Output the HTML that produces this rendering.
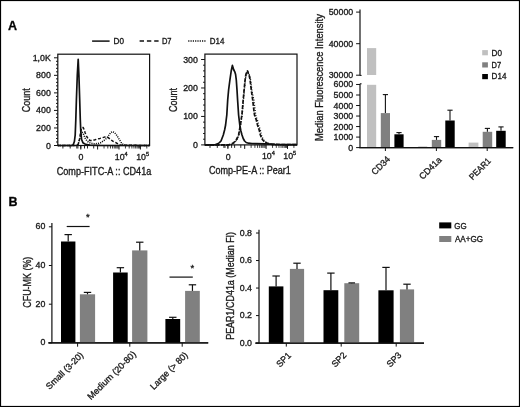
<!DOCTYPE html>
<html><head><meta charset="utf-8"><style>
html,body{margin:0;padding:0;background:#fff;width:520px;height:407px;overflow:hidden;}
svg{display:block;will-change:transform;}
text{font-family:"Liberation Sans", sans-serif;stroke:#1a1a1a;stroke-width:0.33px;}
</style></head><body>
<svg width="520" height="407" viewBox="0 0 520 407">
<rect x="0" y="0" width="520" height="407" fill="#fff"/>
<rect x="0.5" y="0.5" width="519" height="406" fill="none" stroke="#000" stroke-width="1.2"/>
<text x="8" y="30.2" font-size="12.5" font-weight="bold" fill="#000">A</text>
<text x="8.4" y="206" font-size="12.5" font-weight="bold" fill="#000">B</text>
<line x1="92.1" y1="41.1" x2="109.6" y2="41.1" stroke="#111" stroke-width="1.5" />
<text x="113.6" y="44.1" font-size="8.2" textLength="10.4" lengthAdjust="spacingAndGlyphs" fill="#1a1a1a">D0</text>
<line x1="139.6" y1="41.1" x2="158.6" y2="41.1" stroke="#111" stroke-width="1.5" stroke-dasharray="4.4 2.9"/>
<text x="161.9" y="44.1" font-size="8.2" textLength="9.6" lengthAdjust="spacingAndGlyphs" fill="#1a1a1a">D7</text>
<line x1="188.2" y1="41.1" x2="206.6" y2="41.1" stroke="#111" stroke-width="1.5" stroke-dasharray="1.2 1.1"/>
<text x="209.8" y="44.1" font-size="8.2" textLength="14.6" lengthAdjust="spacingAndGlyphs" fill="#1a1a1a">D14</text>
<rect x="57.8" y="54.2" width="91.8" height="91.3" fill="none" stroke="#111" stroke-width="1.2"/>
<line x1="54" y1="145.5" x2="57.8" y2="145.5" stroke="#111" stroke-width="1" />
<line x1="56" y1="141.99" x2="57.8" y2="141.99" stroke="#111" stroke-width="1" />
<line x1="56" y1="138.48" x2="57.8" y2="138.48" stroke="#111" stroke-width="1" />
<line x1="56" y1="134.98" x2="57.8" y2="134.98" stroke="#111" stroke-width="1" />
<line x1="56" y1="131.47" x2="57.8" y2="131.47" stroke="#111" stroke-width="1" />
<line x1="54" y1="127.96" x2="57.8" y2="127.96" stroke="#111" stroke-width="1" />
<line x1="56" y1="124.45" x2="57.8" y2="124.45" stroke="#111" stroke-width="1" />
<line x1="56" y1="120.94" x2="57.8" y2="120.94" stroke="#111" stroke-width="1" />
<line x1="56" y1="117.44" x2="57.8" y2="117.44" stroke="#111" stroke-width="1" />
<line x1="56" y1="113.93" x2="57.8" y2="113.93" stroke="#111" stroke-width="1" />
<line x1="54" y1="110.42" x2="57.8" y2="110.42" stroke="#111" stroke-width="1" />
<line x1="56" y1="106.91" x2="57.8" y2="106.91" stroke="#111" stroke-width="1" />
<line x1="56" y1="103.4" x2="57.8" y2="103.4" stroke="#111" stroke-width="1" />
<line x1="56" y1="99.9" x2="57.8" y2="99.9" stroke="#111" stroke-width="1" />
<line x1="56" y1="96.39" x2="57.8" y2="96.39" stroke="#111" stroke-width="1" />
<line x1="54" y1="92.88" x2="57.8" y2="92.88" stroke="#111" stroke-width="1" />
<line x1="56" y1="89.37" x2="57.8" y2="89.37" stroke="#111" stroke-width="1" />
<line x1="56" y1="85.86" x2="57.8" y2="85.86" stroke="#111" stroke-width="1" />
<line x1="56" y1="82.36" x2="57.8" y2="82.36" stroke="#111" stroke-width="1" />
<line x1="56" y1="78.85" x2="57.8" y2="78.85" stroke="#111" stroke-width="1" />
<line x1="54" y1="75.34" x2="57.8" y2="75.34" stroke="#111" stroke-width="1" />
<line x1="56" y1="71.83" x2="57.8" y2="71.83" stroke="#111" stroke-width="1" />
<line x1="56" y1="68.32" x2="57.8" y2="68.32" stroke="#111" stroke-width="1" />
<line x1="56" y1="64.82" x2="57.8" y2="64.82" stroke="#111" stroke-width="1" />
<line x1="56" y1="61.31" x2="57.8" y2="61.31" stroke="#111" stroke-width="1" />
<line x1="54" y1="57.8" x2="57.8" y2="57.8" stroke="#111" stroke-width="1" />
<text x="50.8" y="148.5" font-size="8.8" text-anchor="end" fill="#1a1a1a">0</text>
<text x="50.8" y="130.96" font-size="8.8" text-anchor="end" fill="#1a1a1a">200</text>
<text x="50.8" y="113.42" font-size="8.8" text-anchor="end" fill="#1a1a1a">400</text>
<text x="50.8" y="95.88" font-size="8.8" text-anchor="end" fill="#1a1a1a">600</text>
<text x="50.8" y="78.34" font-size="8.8" text-anchor="end" fill="#1a1a1a">800</text>
<text x="50.8" y="60.8" font-size="8.8" text-anchor="end" fill="#1a1a1a">1,0K</text>
<text transform="translate(26,100.25) rotate(-90)" x="0" y="3.6" font-size="10.2" text-anchor="middle" textLength="24" lengthAdjust="spacingAndGlyphs" fill="#1a1a1a">Count</text>
<line x1="62.9" y1="145.5" x2="62.9" y2="148.5" stroke="#111" stroke-width="0.9" />
<line x1="70.2" y1="145.5" x2="70.2" y2="148.5" stroke="#111" stroke-width="0.9" />
<line x1="76.8" y1="145.5" x2="76.8" y2="148.5" stroke="#111" stroke-width="0.9" />
<line x1="77.9" y1="145.5" x2="77.9" y2="148.5" stroke="#111" stroke-width="0.9" />
<line x1="80.8" y1="145.5" x2="80.8" y2="148.5" stroke="#111" stroke-width="0.9" />
<line x1="84.5" y1="145.5" x2="84.5" y2="148.5" stroke="#111" stroke-width="0.9" />
<line x1="87.5" y1="145.5" x2="87.5" y2="148.5" stroke="#111" stroke-width="0.9" />
<line x1="93.7" y1="145.5" x2="93.7" y2="148.5" stroke="#111" stroke-width="0.9" />
<line x1="97.6" y1="145.5" x2="97.6" y2="149.5" stroke="#111" stroke-width="1" />
<line x1="104.04" y1="145.5" x2="104.04" y2="148.5" stroke="#111" stroke-width="0.8" />
<line x1="107.81" y1="145.5" x2="107.81" y2="148.5" stroke="#111" stroke-width="0.8" />
<line x1="110.48" y1="145.5" x2="110.48" y2="148.5" stroke="#111" stroke-width="0.8" />
<line x1="112.56" y1="145.5" x2="112.56" y2="148.5" stroke="#111" stroke-width="0.8" />
<line x1="114.25" y1="145.5" x2="114.25" y2="148.5" stroke="#111" stroke-width="0.8" />
<line x1="115.69" y1="145.5" x2="115.69" y2="148.5" stroke="#111" stroke-width="0.8" />
<line x1="116.93" y1="145.5" x2="116.93" y2="148.5" stroke="#111" stroke-width="0.8" />
<line x1="118.02" y1="145.5" x2="118.02" y2="148.5" stroke="#111" stroke-width="0.8" />
<line x1="119" y1="145.5" x2="119" y2="149.5" stroke="#111" stroke-width="1" />
<line x1="125.44" y1="145.5" x2="125.44" y2="148.5" stroke="#111" stroke-width="0.8" />
<line x1="129.21" y1="145.5" x2="129.21" y2="148.5" stroke="#111" stroke-width="0.8" />
<line x1="131.88" y1="145.5" x2="131.88" y2="148.5" stroke="#111" stroke-width="0.8" />
<line x1="133.96" y1="145.5" x2="133.96" y2="148.5" stroke="#111" stroke-width="0.8" />
<line x1="135.65" y1="145.5" x2="135.65" y2="148.5" stroke="#111" stroke-width="0.8" />
<line x1="137.09" y1="145.5" x2="137.09" y2="148.5" stroke="#111" stroke-width="0.8" />
<line x1="138.33" y1="145.5" x2="138.33" y2="148.5" stroke="#111" stroke-width="0.8" />
<line x1="139.42" y1="145.5" x2="139.42" y2="148.5" stroke="#111" stroke-width="0.8" />
<line x1="140.4" y1="145.5" x2="140.4" y2="149.5" stroke="#111" stroke-width="1" />
<line x1="146.8" y1="145.5" x2="146.8" y2="148.5" stroke="#111" stroke-width="0.8" />
<line x1="80.8" y1="145.5" x2="80.8" y2="149.5" stroke="#111" stroke-width="1" />
<text x="81" y="160.1" font-size="8.8" text-anchor="middle" fill="#1a1a1a">0</text>
<text x="119.7" y="159.7" font-size="8.8" text-anchor="middle" fill="#1a1a1a">10</text>
<text x="124.6" y="155.7" font-size="5.6" fill="#1a1a1a">4</text>
<text x="141.1" y="159.7" font-size="8.8" text-anchor="middle" fill="#1a1a1a">10</text>
<text x="146" y="155.7" font-size="5.6" fill="#1a1a1a">5</text>
<text x="56.7" y="174.8" font-size="10" textLength="94.6" lengthAdjust="spacingAndGlyphs" fill="#1a1a1a">Comp-FITC-A :: CD41a</text>
<path d="M57.8,145.5 L72,145.5 L73.2,144.8 L74.4,141.5 L75.2,135 L75.8,120 L76.4,100 L77.3,75 L78.2,59.3 L78.9,75 L79.7,100 L80.3,120 L80.8,132 L81.6,139.5 L83,142.8 L85.5,144.4 L90,145.1 L100,145.4 L149.6,145.5" fill="none" stroke="#111" stroke-width="1.7" stroke-linejoin="round" />
<path d="M57.8,145.5 L76.5,145.5 L78.1,144.5 L79.3,140.5 L80.3,134 L81.2,129.5 L82.2,127.4 L83.2,127.6 L84.2,129.8 L85.2,133 L86.4,135.8 L88,138.6 L90,140.6 L92.5,140.5 L95,139.8 L97.5,139 L100,138.4 L102.5,137.7 L104.5,137.1 L106.3,136.9 L108.5,137.8 L111.2,140 L113.5,141.6 L116.2,142.8 L118.5,144.2 L120.5,145.2 L149.6,145.5" fill="none" stroke="#111" stroke-width="1.5" stroke-linejoin="round" stroke-dasharray="3 1.8" />
<path d="M57.8,145.5 L77,145.5 L78.5,143 L80,138 L81.2,134 L82.2,132.4 L83.6,134.5 L85.2,138.3 L86.8,140.8 L88.7,142.4 L91,143.3 L94.3,143.7 L97.5,143.6 L100.5,142.8 L103.5,140.8 L106.5,138.4 L108.8,135.4 L110.7,132.6 L112.5,131.6 L114.5,132.5 L116.7,135.2 L118.9,138.8 L121,142.2 L123.2,144.6 L125.5,145.4 L149.6,145.5" fill="none" stroke="#111" stroke-width="1.5" stroke-linejoin="round" stroke-dasharray="1.1 1.1" />
<rect x="204.9" y="54.1" width="92.1" height="90.8" fill="none" stroke="#111" stroke-width="1.2"/>
<line x1="201.1" y1="144.9" x2="204.9" y2="144.9" stroke="#111" stroke-width="1" />
<line x1="203.1" y1="139.21" x2="204.9" y2="139.21" stroke="#111" stroke-width="1" />
<line x1="203.1" y1="133.51" x2="204.9" y2="133.51" stroke="#111" stroke-width="1" />
<line x1="203.1" y1="127.82" x2="204.9" y2="127.82" stroke="#111" stroke-width="1" />
<line x1="203.1" y1="122.13" x2="204.9" y2="122.13" stroke="#111" stroke-width="1" />
<line x1="201.1" y1="116.43" x2="204.9" y2="116.43" stroke="#111" stroke-width="1" />
<line x1="203.1" y1="110.74" x2="204.9" y2="110.74" stroke="#111" stroke-width="1" />
<line x1="203.1" y1="105.05" x2="204.9" y2="105.05" stroke="#111" stroke-width="1" />
<line x1="203.1" y1="99.35" x2="204.9" y2="99.35" stroke="#111" stroke-width="1" />
<line x1="203.1" y1="93.66" x2="204.9" y2="93.66" stroke="#111" stroke-width="1" />
<line x1="201.1" y1="87.97" x2="204.9" y2="87.97" stroke="#111" stroke-width="1" />
<line x1="203.1" y1="82.27" x2="204.9" y2="82.27" stroke="#111" stroke-width="1" />
<line x1="203.1" y1="76.58" x2="204.9" y2="76.58" stroke="#111" stroke-width="1" />
<line x1="203.1" y1="70.89" x2="204.9" y2="70.89" stroke="#111" stroke-width="1" />
<line x1="203.1" y1="65.19" x2="204.9" y2="65.19" stroke="#111" stroke-width="1" />
<line x1="201.1" y1="59.5" x2="204.9" y2="59.5" stroke="#111" stroke-width="1" />
<text x="197.9" y="147.9" font-size="8.8" text-anchor="end" fill="#1a1a1a">0</text>
<text x="197.9" y="119.43" font-size="8.8" text-anchor="end" fill="#1a1a1a">100</text>
<text x="197.9" y="90.97" font-size="8.8" text-anchor="end" fill="#1a1a1a">200</text>
<text x="197.9" y="62.5" font-size="8.8" text-anchor="end" fill="#1a1a1a">300</text>
<text transform="translate(173.6,99.9) rotate(-90)" x="0" y="3.6" font-size="10.2" text-anchor="middle" textLength="24" lengthAdjust="spacingAndGlyphs" fill="#1a1a1a">Count</text>
<line x1="210" y1="144.9" x2="210" y2="147.9" stroke="#111" stroke-width="0.9" />
<line x1="217.3" y1="144.9" x2="217.3" y2="147.9" stroke="#111" stroke-width="0.9" />
<line x1="223.9" y1="144.9" x2="223.9" y2="147.9" stroke="#111" stroke-width="0.9" />
<line x1="225" y1="144.9" x2="225" y2="147.9" stroke="#111" stroke-width="0.9" />
<line x1="227.9" y1="144.9" x2="227.9" y2="147.9" stroke="#111" stroke-width="0.9" />
<line x1="231.6" y1="144.9" x2="231.6" y2="147.9" stroke="#111" stroke-width="0.9" />
<line x1="234.6" y1="144.9" x2="234.6" y2="147.9" stroke="#111" stroke-width="0.9" />
<line x1="240.8" y1="144.9" x2="240.8" y2="147.9" stroke="#111" stroke-width="0.9" />
<line x1="244.7" y1="144.9" x2="244.7" y2="148.9" stroke="#111" stroke-width="1" />
<line x1="251.14" y1="144.9" x2="251.14" y2="147.9" stroke="#111" stroke-width="0.8" />
<line x1="254.91" y1="144.9" x2="254.91" y2="147.9" stroke="#111" stroke-width="0.8" />
<line x1="257.58" y1="144.9" x2="257.58" y2="147.9" stroke="#111" stroke-width="0.8" />
<line x1="259.66" y1="144.9" x2="259.66" y2="147.9" stroke="#111" stroke-width="0.8" />
<line x1="261.35" y1="144.9" x2="261.35" y2="147.9" stroke="#111" stroke-width="0.8" />
<line x1="262.79" y1="144.9" x2="262.79" y2="147.9" stroke="#111" stroke-width="0.8" />
<line x1="264.03" y1="144.9" x2="264.03" y2="147.9" stroke="#111" stroke-width="0.8" />
<line x1="265.12" y1="144.9" x2="265.12" y2="147.9" stroke="#111" stroke-width="0.8" />
<line x1="266.1" y1="144.9" x2="266.1" y2="148.9" stroke="#111" stroke-width="1" />
<line x1="272.54" y1="144.9" x2="272.54" y2="147.9" stroke="#111" stroke-width="0.8" />
<line x1="276.31" y1="144.9" x2="276.31" y2="147.9" stroke="#111" stroke-width="0.8" />
<line x1="278.98" y1="144.9" x2="278.98" y2="147.9" stroke="#111" stroke-width="0.8" />
<line x1="281.06" y1="144.9" x2="281.06" y2="147.9" stroke="#111" stroke-width="0.8" />
<line x1="282.75" y1="144.9" x2="282.75" y2="147.9" stroke="#111" stroke-width="0.8" />
<line x1="284.19" y1="144.9" x2="284.19" y2="147.9" stroke="#111" stroke-width="0.8" />
<line x1="285.43" y1="144.9" x2="285.43" y2="147.9" stroke="#111" stroke-width="0.8" />
<line x1="286.52" y1="144.9" x2="286.52" y2="147.9" stroke="#111" stroke-width="0.8" />
<line x1="287.5" y1="144.9" x2="287.5" y2="148.9" stroke="#111" stroke-width="1" />
<line x1="293.9" y1="144.9" x2="293.9" y2="147.9" stroke="#111" stroke-width="0.8" />
<line x1="227.9" y1="144.9" x2="227.9" y2="148.9" stroke="#111" stroke-width="1" />
<text x="228.1" y="159.5" font-size="8.8" text-anchor="middle" fill="#1a1a1a">0</text>
<text x="266.8" y="159.1" font-size="8.8" text-anchor="middle" fill="#1a1a1a">10</text>
<text x="271.7" y="155.1" font-size="5.6" fill="#1a1a1a">4</text>
<text x="288.2" y="159.1" font-size="8.8" text-anchor="middle" fill="#1a1a1a">10</text>
<text x="293.1" y="155.1" font-size="5.6" fill="#1a1a1a">5</text>
<text x="208.9" y="174.2" font-size="10" textLength="82" lengthAdjust="spacingAndGlyphs" fill="#1a1a1a">Comp-PE-A :: Pear1</text>
<path d="M204.9,144.9 L212,144.9 L215.5,144.6 L217.6,143.9 L219.4,142.6 L221,141 L223.3,135 L224.6,130 L225.6,125 L226.3,119 L226.8,115 L227.7,100 L228.6,90 L229.9,80 L231.2,71 L232.4,65.4 L233.6,69.5 L234.8,71.8 L235.6,74.5 L236.3,80 L237,90 L237.6,100 L238.6,115 L239.8,125 L240.9,131 L242,135 L243.2,138.5 L244.6,141 L246.2,142.5 L248.5,143.2 L252,143.5 L256,143.6 L265,143.9 L275,144.3 L297,144.6" fill="none" stroke="#111" stroke-width="1.7" stroke-linejoin="round" />
<path d="M204.9,144.9 L226,144.9 L229,144.6 L231.3,144 L233.3,143 L235,141.4 L236.2,140 L237.5,137.5 L238.6,135 L239.5,130 L240.4,125 L241.1,120 L241.9,115 L242.6,107 L243.2,100 L244.1,90 L245.1,80 L245.8,75 L246.7,71.8 L247.6,71 L248.3,73.5 L249.1,75 L250.1,80 L251.3,90 L252.7,100 L253.5,107 L254.5,115 L256.3,120 L257.5,125 L259.2,130 L260.4,135 L261.5,138 L262.8,140 L264.5,141.8 L266.9,143 L269.5,143.9 L272,144.3 L280,144.5 L297,144.7" fill="none" stroke="#111" stroke-width="1.7" stroke-linejoin="round" stroke-dasharray="4 1.4" />
<path d="M205.1,145.4 L226.2,145.4 L229.2,145.1 L231.5,144.5 L233.5,143.5 L235.2,141.9 L236.4,140.5 L237.7,138 L238.8,135.5 L239.7,130.5 L240.6,125.5 L241.3,120.5 L242.1,115.5 L242.8,107.5 L243.4,100.5 L244.3,90.5 L245.3,80.5 L246,75.5 L246.9,72.3 L248.2,71.5 L248.9,74 L249.7,75.5 L250.7,80.5 L251.9,90.5 L254,100.5 L254.8,107.5 L255.8,115.5 L257.6,120.5 L258.8,125.5 L260.5,130.5 L261.7,135.5 L262.8,138.5 L264.1,140.5 L265.8,142.3 L268.2,143.5 L270.8,144.4 L273.3,144.8 L281.3,145 L298.3,145.2" fill="none" stroke="#111" stroke-width="1.3" stroke-linejoin="round" stroke-dasharray="1 1.6" />
<line x1="360" y1="9.4" x2="360" y2="75.4" stroke="#111" stroke-width="1.2" />
<line x1="360" y1="75.4" x2="361.6" y2="75.4" stroke="#111" stroke-width="1" />
<line x1="360" y1="83.8" x2="361.6" y2="83.8" stroke="#111" stroke-width="1" />
<line x1="356.1" y1="12.1" x2="360" y2="12.1" stroke="#111" stroke-width="1" />
<text x="353.2" y="15.1" font-size="8.8" text-anchor="end" fill="#1a1a1a">50000</text>
<line x1="356.1" y1="43.7" x2="360" y2="43.7" stroke="#111" stroke-width="1" />
<text x="353.2" y="46.7" font-size="8.8" text-anchor="end" fill="#1a1a1a">40000</text>
<line x1="356.1" y1="75.2" x2="360" y2="75.2" stroke="#111" stroke-width="1" />
<text x="353.2" y="78.2" font-size="8.8" text-anchor="end" fill="#1a1a1a">30000</text>
<line x1="360" y1="83.8" x2="360" y2="147.6" stroke="#111" stroke-width="1.2" />
<line x1="356.1" y1="147.6" x2="360" y2="147.6" stroke="#111" stroke-width="1" />
<text x="353.2" y="150.6" font-size="8.8" text-anchor="end" fill="#1a1a1a">0</text>
<line x1="356.1" y1="137.08" x2="360" y2="137.08" stroke="#111" stroke-width="1" />
<text x="353.2" y="140.08" font-size="8.8" text-anchor="end" fill="#1a1a1a">1000</text>
<line x1="356.1" y1="126.56" x2="360" y2="126.56" stroke="#111" stroke-width="1" />
<text x="353.2" y="129.56" font-size="8.8" text-anchor="end" fill="#1a1a1a">2000</text>
<line x1="356.1" y1="116.04" x2="360" y2="116.04" stroke="#111" stroke-width="1" />
<text x="353.2" y="119.04" font-size="8.8" text-anchor="end" fill="#1a1a1a">3000</text>
<line x1="356.1" y1="105.52" x2="360" y2="105.52" stroke="#111" stroke-width="1" />
<text x="353.2" y="108.52" font-size="8.8" text-anchor="end" fill="#1a1a1a">4000</text>
<line x1="356.1" y1="95" x2="360" y2="95" stroke="#111" stroke-width="1" />
<text x="353.2" y="98" font-size="8.8" text-anchor="end" fill="#1a1a1a">5000</text>
<line x1="356.1" y1="84.48" x2="360" y2="84.48" stroke="#111" stroke-width="1" />
<text x="353.2" y="87.48" font-size="8.8" text-anchor="end" fill="#1a1a1a">6000</text>
<line x1="359.4" y1="147.6" x2="513.2" y2="147.6" stroke="#111" stroke-width="1.2" />
<line x1="385.4" y1="147.6" x2="385.4" y2="151" stroke="#111" stroke-width="1" />
<line x1="436.4" y1="147.6" x2="436.4" y2="151" stroke="#111" stroke-width="1" />
<line x1="487.2" y1="147.6" x2="487.2" y2="151" stroke="#111" stroke-width="1" />
<rect x="367" y="84.8" width="9.2" height="62.8" fill="#c0c0c0"/>
<rect x="367" y="48.1" width="9.2" height="26.9" fill="#c0c0c0"/>
<rect x="380.8" y="113.1" width="9.2" height="34.5" fill="#808080"/>
<line x1="385.4" y1="113.1" x2="385.4" y2="94.6" stroke="#111" stroke-width="1.1" />
<line x1="382.8" y1="94.6" x2="388" y2="94.6" stroke="#111" stroke-width="1.1" />
<rect x="394.4" y="134.3" width="9.2" height="13.3" fill="#000"/>
<line x1="399" y1="134.3" x2="399" y2="132.6" stroke="#111" stroke-width="1.1" />
<line x1="396.4" y1="132.6" x2="401.6" y2="132.6" stroke="#111" stroke-width="1.1" />
<rect x="418.2" y="146.4" width="9" height="1.2" fill="#c0c0c0"/>
<rect x="431.8" y="139.9" width="9.4" height="7.7" fill="#808080"/>
<line x1="436.5" y1="139.9" x2="436.5" y2="136.6" stroke="#111" stroke-width="1.1" />
<line x1="433.9" y1="136.6" x2="439.1" y2="136.6" stroke="#111" stroke-width="1.1" />
<rect x="445.3" y="120.5" width="9.4" height="27.1" fill="#000"/>
<line x1="450" y1="120.5" x2="450" y2="110.2" stroke="#111" stroke-width="1.1" />
<line x1="447.4" y1="110.2" x2="452.6" y2="110.2" stroke="#111" stroke-width="1.1" />
<rect x="468.6" y="142.6" width="9.8" height="5" fill="#c0c0c0"/>
<rect x="482.7" y="131.8" width="9.5" height="15.8" fill="#808080"/>
<line x1="487.4" y1="131.8" x2="487.4" y2="128.4" stroke="#111" stroke-width="1.1" />
<line x1="484.8" y1="128.4" x2="490" y2="128.4" stroke="#111" stroke-width="1.1" />
<rect x="496.2" y="130.8" width="9.5" height="16.8" fill="#000"/>
<line x1="501" y1="130.8" x2="501" y2="126.9" stroke="#111" stroke-width="1.1" />
<line x1="498.4" y1="126.9" x2="503.6" y2="126.9" stroke="#111" stroke-width="1.1" />
<line x1="359.4" y1="147.6" x2="513.2" y2="147.6" stroke="#111" stroke-width="1.2" />
<text transform="translate(319.9,77.6) rotate(-90)" x="0" y="3.5" font-size="10" text-anchor="middle" textLength="126.8" lengthAdjust="spacingAndGlyphs" fill="#1a1a1a">Median Fluorescence Intensity</text>
<text transform="translate(380.6,165.4) rotate(-45)" x="0" y="3.2" font-size="9" text-anchor="middle" textLength="22.2" lengthAdjust="spacingAndGlyphs" fill="#1a1a1a">CD34</text>
<text transform="translate(430.2,168) rotate(-45)" x="0" y="3.2" font-size="9" text-anchor="middle" textLength="27.6" lengthAdjust="spacingAndGlyphs" fill="#1a1a1a">CD41a</text>
<text transform="translate(479.8,168.8) rotate(-45)" x="0" y="3.2" font-size="9" text-anchor="middle" textLength="26.5" lengthAdjust="spacingAndGlyphs" fill="#1a1a1a">PEAR1</text>
<rect x="482.2" y="50.1" width="5.7" height="5.2" fill="#c0c0c0"/>
<text x="491.6" y="55.5" font-size="8.5" textLength="10.4" lengthAdjust="spacingAndGlyphs" fill="#1a1a1a">D0</text>
<rect x="482.2" y="62.3" width="5.7" height="5.2" fill="#808080"/>
<text x="491.6" y="67.7" font-size="8.5" textLength="9.6" lengthAdjust="spacingAndGlyphs" fill="#1a1a1a">D7</text>
<rect x="482.2" y="74" width="5.7" height="5.2" fill="#000"/>
<text x="491.6" y="79.4" font-size="8.5" textLength="14.8" lengthAdjust="spacingAndGlyphs" fill="#1a1a1a">D14</text>
<line x1="51.9" y1="222.9" x2="51.9" y2="342.9" stroke="#111" stroke-width="1.2" />
<line x1="48.9" y1="342.9" x2="51.9" y2="342.9" stroke="#111" stroke-width="1" />
<text x="45.4" y="345.4" font-size="8.8" text-anchor="end" fill="#1a1a1a">0</text>
<line x1="48.9" y1="304.2" x2="51.9" y2="304.2" stroke="#111" stroke-width="1" />
<text x="45.4" y="306.7" font-size="8.8" text-anchor="end" fill="#1a1a1a">20</text>
<line x1="48.9" y1="265.5" x2="51.9" y2="265.5" stroke="#111" stroke-width="1" />
<text x="45.4" y="268" font-size="8.8" text-anchor="end" fill="#1a1a1a">40</text>
<line x1="48.9" y1="226.8" x2="51.9" y2="226.8" stroke="#111" stroke-width="1" />
<text x="45.4" y="229.3" font-size="8.8" text-anchor="end" fill="#1a1a1a">60</text>
<line x1="48.4" y1="342.9" x2="208.2" y2="342.9" stroke="#111" stroke-width="1.2" />
<line x1="77.6" y1="342.9" x2="77.6" y2="346.7" stroke="#111" stroke-width="1" />
<line x1="129.8" y1="342.9" x2="129.8" y2="346.7" stroke="#111" stroke-width="1" />
<line x1="182.2" y1="342.9" x2="182.2" y2="346.7" stroke="#111" stroke-width="1" />
<rect x="61" y="241.5" width="14.4" height="101.4" fill="#000"/>
<line x1="68.2" y1="241.5" x2="68.2" y2="234.6" stroke="#111" stroke-width="1.2" />
<line x1="64.5" y1="234.6" x2="71.9" y2="234.6" stroke="#111" stroke-width="1.2" />
<rect x="79.9" y="294.3" width="15.2" height="48.6" fill="#808080"/>
<line x1="87.5" y1="294.3" x2="87.5" y2="292.4" stroke="#111" stroke-width="1.2" />
<line x1="83.8" y1="292.4" x2="91.2" y2="292.4" stroke="#111" stroke-width="1.2" />
<rect x="113.1" y="272.5" width="14.6" height="70.4" fill="#000"/>
<line x1="120.4" y1="272.5" x2="120.4" y2="267.7" stroke="#111" stroke-width="1.2" />
<line x1="116.7" y1="267.7" x2="124.1" y2="267.7" stroke="#111" stroke-width="1.2" />
<rect x="132.1" y="250.4" width="15.3" height="92.5" fill="#808080"/>
<line x1="139.75" y1="250.4" x2="139.75" y2="242.2" stroke="#111" stroke-width="1.2" />
<line x1="136.05" y1="242.2" x2="143.45" y2="242.2" stroke="#111" stroke-width="1.2" />
<rect x="165.4" y="319" width="14.8" height="23.9" fill="#000"/>
<line x1="172.8" y1="319" x2="172.8" y2="317.3" stroke="#111" stroke-width="1.2" />
<line x1="169.1" y1="317.3" x2="176.5" y2="317.3" stroke="#111" stroke-width="1.2" />
<rect x="185.1" y="290.9" width="14.7" height="52" fill="#808080"/>
<line x1="192.45" y1="290.9" x2="192.45" y2="284.8" stroke="#111" stroke-width="1.2" />
<line x1="188.75" y1="284.8" x2="196.15" y2="284.8" stroke="#111" stroke-width="1.2" />
<line x1="48.4" y1="342.9" x2="208.2" y2="342.9" stroke="#111" stroke-width="1.2" />
<line x1="66.7" y1="226.5" x2="89.6" y2="226.5" stroke="#111" stroke-width="1.2" />
<text x="87.9" y="220.2" font-size="9.5" text-anchor="middle" fill="#1a1a1a">*</text>
<line x1="169.5" y1="277.1" x2="192.8" y2="277.1" stroke="#111" stroke-width="1.2" />
<text x="192.4" y="270.8" font-size="9.5" text-anchor="middle" fill="#1a1a1a">*</text>
<text transform="translate(26.8,282.2) rotate(-90)" x="0" y="3.7" font-size="10.2" text-anchor="middle" textLength="51" lengthAdjust="spacingAndGlyphs" fill="#1a1a1a">CFU-MK (%)</text>
<text transform="translate(64.4,370.6) rotate(-45)" x="0" y="3.25" font-size="9" text-anchor="middle" textLength="48.5" lengthAdjust="spacingAndGlyphs" fill="#1a1a1a">Small (3-20)</text>
<text transform="translate(111.5,375.2) rotate(-45)" x="0" y="3.25" font-size="9" text-anchor="middle" textLength="64.5" lengthAdjust="spacingAndGlyphs" fill="#1a1a1a">Medium (20-80)</text>
<text transform="translate(168.7,370.6) rotate(-45)" x="0" y="3.25" font-size="9" text-anchor="middle" textLength="49" lengthAdjust="spacingAndGlyphs" fill="#1a1a1a">Large (&gt; 80)</text>
<line x1="259" y1="229.7" x2="259" y2="343.1" stroke="#111" stroke-width="1.2" />
<line x1="256" y1="343.1" x2="259" y2="343.1" stroke="#111" stroke-width="1" />
<text x="252" y="345.9" font-size="8.8" text-anchor="end" fill="#1a1a1a">0.0</text>
<line x1="256" y1="315.58" x2="259" y2="315.58" stroke="#111" stroke-width="1" />
<text x="252" y="318.38" font-size="8.8" text-anchor="end" fill="#1a1a1a">0.2</text>
<line x1="256" y1="288.06" x2="259" y2="288.06" stroke="#111" stroke-width="1" />
<text x="252" y="290.86" font-size="8.8" text-anchor="end" fill="#1a1a1a">0.4</text>
<line x1="256" y1="260.54" x2="259" y2="260.54" stroke="#111" stroke-width="1" />
<text x="252" y="263.34" font-size="8.8" text-anchor="end" fill="#1a1a1a">0.6</text>
<line x1="256" y1="233.02" x2="259" y2="233.02" stroke="#111" stroke-width="1" />
<text x="252" y="235.82" font-size="8.8" text-anchor="end" fill="#1a1a1a">0.8</text>
<line x1="255.4" y1="343.1" x2="424" y2="343.1" stroke="#111" stroke-width="1.2" />
<line x1="286.3" y1="343.1" x2="286.3" y2="346.6" stroke="#111" stroke-width="1" />
<line x1="341.2" y1="343.1" x2="341.2" y2="346.6" stroke="#111" stroke-width="1" />
<line x1="396.2" y1="343.1" x2="396.2" y2="346.6" stroke="#111" stroke-width="1" />
<rect x="268.8" y="286.4" width="14.6" height="56.7" fill="#000"/>
<line x1="276.1" y1="286.4" x2="276.1" y2="276" stroke="#111" stroke-width="1.2" />
<line x1="272.4" y1="276" x2="279.8" y2="276" stroke="#111" stroke-width="1.2" />
<rect x="289.9" y="268.9" width="14.2" height="74.2" fill="#808080"/>
<line x1="297" y1="268.9" x2="297" y2="263.2" stroke="#111" stroke-width="1.2" />
<line x1="293.3" y1="263.2" x2="300.7" y2="263.2" stroke="#111" stroke-width="1.2" />
<rect x="323.5" y="290.2" width="14.8" height="52.9" fill="#000"/>
<line x1="330.9" y1="290.2" x2="330.9" y2="273.1" stroke="#111" stroke-width="1.2" />
<line x1="327.2" y1="273.1" x2="334.6" y2="273.1" stroke="#111" stroke-width="1.2" />
<rect x="344.3" y="283.2" width="14.9" height="59.9" fill="#808080"/>
<line x1="351.75" y1="283.2" x2="351.75" y2="282.9" stroke="#111" stroke-width="1.2" />
<line x1="348.45" y1="282.9" x2="355.05" y2="282.9" stroke="#111" stroke-width="1.2" />
<rect x="378.4" y="290.3" width="15.2" height="52.8" fill="#000"/>
<line x1="386" y1="290.3" x2="386" y2="267.4" stroke="#111" stroke-width="1.2" />
<line x1="382.3" y1="267.4" x2="389.7" y2="267.4" stroke="#111" stroke-width="1.2" />
<rect x="399.9" y="289.4" width="14.2" height="53.7" fill="#808080"/>
<line x1="407" y1="289.4" x2="407" y2="284.2" stroke="#111" stroke-width="1.2" />
<line x1="403.3" y1="284.2" x2="410.7" y2="284.2" stroke="#111" stroke-width="1.2" />
<line x1="255.4" y1="343.1" x2="424" y2="343.1" stroke="#111" stroke-width="1.2" />
<text transform="translate(230.6,285.9) rotate(-90)" x="0" y="3.7" font-size="10.3" text-anchor="middle" textLength="107.9" lengthAdjust="spacingAndGlyphs" fill="#1a1a1a">PEAR1/CD41a (Median FI)</text>
<text transform="translate(283.5,359.6) rotate(-45)" x="0" y="3.2" font-size="9" text-anchor="middle" textLength="16.5" lengthAdjust="spacingAndGlyphs" fill="#1a1a1a">SP1</text>
<text transform="translate(338.8,359.5) rotate(-45)" x="0" y="3.2" font-size="9" text-anchor="middle" textLength="16.8" lengthAdjust="spacingAndGlyphs" fill="#1a1a1a">SP2</text>
<text transform="translate(393.9,359.5) rotate(-45)" x="0" y="3.2" font-size="9" text-anchor="middle" textLength="16.8" lengthAdjust="spacingAndGlyphs" fill="#1a1a1a">SP3</text>
<rect x="439.2" y="222.4" width="12.1" height="6" fill="#000"/>
<rect x="439.2" y="236" width="12.1" height="6" fill="#808080"/>
<text x="454.2" y="228.6" font-size="8.2" textLength="12.4" lengthAdjust="spacingAndGlyphs" fill="#1a1a1a">GG</text>
<text x="454.9" y="242.2" font-size="8.2" textLength="28.2" lengthAdjust="spacingAndGlyphs" fill="#1a1a1a">AA+GG</text>
</svg>
</body></html>
